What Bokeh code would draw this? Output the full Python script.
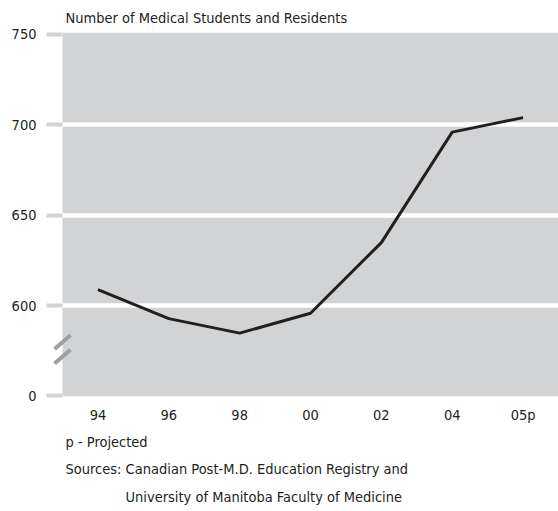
from bokeh.plotting import figure
from bokeh.models import FixedTicker, Label, Title, Range1d, BoxAnnotation
from bokeh.embed import file_html
from bokeh.resources import INLINE

# ---- data ----
years = ["94", "96", "98", "00", "02", "04", "05p"]
students = [609, 593, 585, 596, 635, 696, 704]
y_ticks = [600, 650, 700, 750]
grid_values = [600, 650, 700]
break_value = 550.5        # position on the broken axis where "0" sits
break_label = "0"

positions = list(range(len(years)))

FONT = "DejaVu Sans Condensed"
FS = "14.5px"
TEXT = "#231f20"
BG = "#d1d3d4"

# layout constants (pixels)
W, H = 558, 511
LEFT, TOP, BOTTOM = 46, 31, 115
GUTTER = 16                         # white strip between axis and grey panel
panel_w = W - LEFT - GUTTER
n = len(years)
x_start = -0.5 - GUTTER * n / panel_w

p = figure(x_range=Range1d(x_start, n - 0.5), y_range=Range1d(550, 751),
           width=W, height=H, output_backend="svg", toolbar_location=None,
           min_border_left=LEFT, min_border_right=0, min_border_top=TOP,
           min_border_bottom=BOTTOM,
           background_fill_color="white", border_fill_color="white",
           outline_line_color=None)

# grey plotting panel
p.add_layout(BoxAnnotation(left=-0.5, fill_color=BG, fill_alpha=1.0,
                           line_color=None, level="image"))

p.title.text = "Number of Medical Students and Residents"
p.title.align = "left"
p.title.offset = 19
p.title.standoff = 14
p.title.text_font = FONT
p.title.text_font_size = FS
p.title.text_font_style = "normal"
p.title.text_color = TEXT

# y axis
p.yaxis.ticker = FixedTicker(ticks=[break_value] + y_ticks)
p.yaxis.major_label_overrides = {break_value: break_label}
p.yaxis.axis_line_color = None
p.yaxis.major_tick_out = 0
p.yaxis.major_tick_in = GUTTER
p.yaxis.major_tick_line_color = BG
p.yaxis.major_tick_line_width = 4
p.yaxis.minor_tick_line_color = None
p.yaxis.major_label_standoff = 10
p.yaxis.major_label_text_font = FONT
p.yaxis.major_label_text_font_size = FS
p.yaxis.major_label_text_color = TEXT

# x axis
p.xaxis.ticker = FixedTicker(ticks=positions)
p.xaxis.major_label_overrides = {i: lab for i, lab in zip(positions, years)}
p.xaxis.axis_line_color = None
p.xaxis.major_tick_line_color = None
p.xaxis.minor_tick_line_color = None
p.xaxis.major_label_standoff = 4
p.xaxis.major_label_text_font = FONT
p.xaxis.major_label_text_font_size = FS
p.xaxis.major_label_text_color = TEXT

# grid
p.xgrid.grid_line_color = None
p.ygrid.ticker = FixedTicker(ticks=grid_values)
p.ygrid.grid_line_color = "white"
p.ygrid.grid_line_width = 4.5

p.line(positions, students, line_color=TEXT, line_width=3)

# axis-break marks (two short thick slashes on the panel edge)
for yb in (580, 572):
    p.add_layout(Label(x=-0.5, y=yb, text="\u2014" * 6, text_font_size="3.5px",
                       text_color="#9d9fa2", text_align="center", text_baseline="middle",
                       background_fill_color="#9d9fa2", angle=0.72))

# footnotes
for txt, off, sd in (("p - Projected", 19, 13),
                     ("Sources: Canadian Post-M.D. Education Registry and", 19, 5),
                     ("University of Manitoba Faculty of Medicine", 79, 14)):
    p.add_layout(Title(text=txt, align="left", offset=off, standoff=sd,
                       text_font=FONT, text_font_size=FS, text_font_style="normal",
                       text_color=TEXT), "below")

open("out.html", "w").write(file_html(p, INLINE))
